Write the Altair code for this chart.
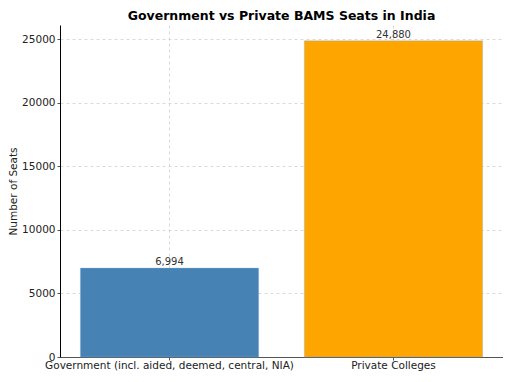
import altair as alt
import pandas as pd

categories = ["Government (incl. aided, deemed, central, NIA)", "Private Colleges"]
seats = [6994, 24880]
labels = ["6,994", "24,880"]
colors = ["#4682B4", "#FFA500"]

df = pd.DataFrame({"cat": categories, "seats": seats, "label": labels, "color": colors})

x = alt.X("cat:N", sort=categories, title=None,
          scale=alt.Scale(paddingInner=0.204, paddingOuter=0.091),
          axis=alt.Axis(labelAngle=0, bandPosition=0.5, grid=True, gridDash=[3, 3],
                        gridColor="#d0d0d0", gridWidth=0.8, domainColor="#555",
                        tickColor="#555", tickSize=3, labelFontSize=10.5, labelLimit=400,
                        labelColor="#222", labelFont="DejaVu Sans", labelPadding=0))
y = alt.Y("seats:Q", title="Number of Seats",
          scale=alt.Scale(domain=[0, 26124], nice=False, zero=True),
          axis=alt.Axis(values=[0, 5000, 10000, 15000, 20000, 25000], format="d",
                        grid=True, gridDash=[3, 3], gridColor="#d0d0d0", gridWidth=0.8,
                        domainColor="#000", tickColor="#555", tickSize=3,
                        labelFontSize=10.5, labelColor="#222", labelFont="DejaVu Sans",
                        labelPadding=2,
                        titleFont="DejaVu Sans", titleFontSize=10.5, titleFontWeight="normal",
                        titleColor="#222", titlePadding=3))

bars = alt.Chart(df).mark_bar(stroke="#7fb0dc", strokeWidth=0.6, strokeOpacity=0.6).encode(
    x=x, y=y, color=alt.Color("color:N", scale=None))
text = alt.Chart(df).mark_text(dy=-6, fontSize=10, color="#333", font="DejaVu Sans").encode(
    x=alt.X("cat:N", sort=categories), y="seats:Q", text="label:N")

chart = (bars + text).properties(
    width=443, height=332,
    autosize=alt.AutoSizeParams(type="none"),
    padding={"left": 52, "top": 17, "right": 0, "bottom": 15},
    title=alt.TitleParams("Government vs Private BAMS Seats in India", font="DejaVu Sans",
                          fontSize=12.5, fontWeight="bold", color="#000", offset=3),
).configure_view(stroke=None)

chart.save("out.html", embed_options={"renderer": "svg", "actions": False})
